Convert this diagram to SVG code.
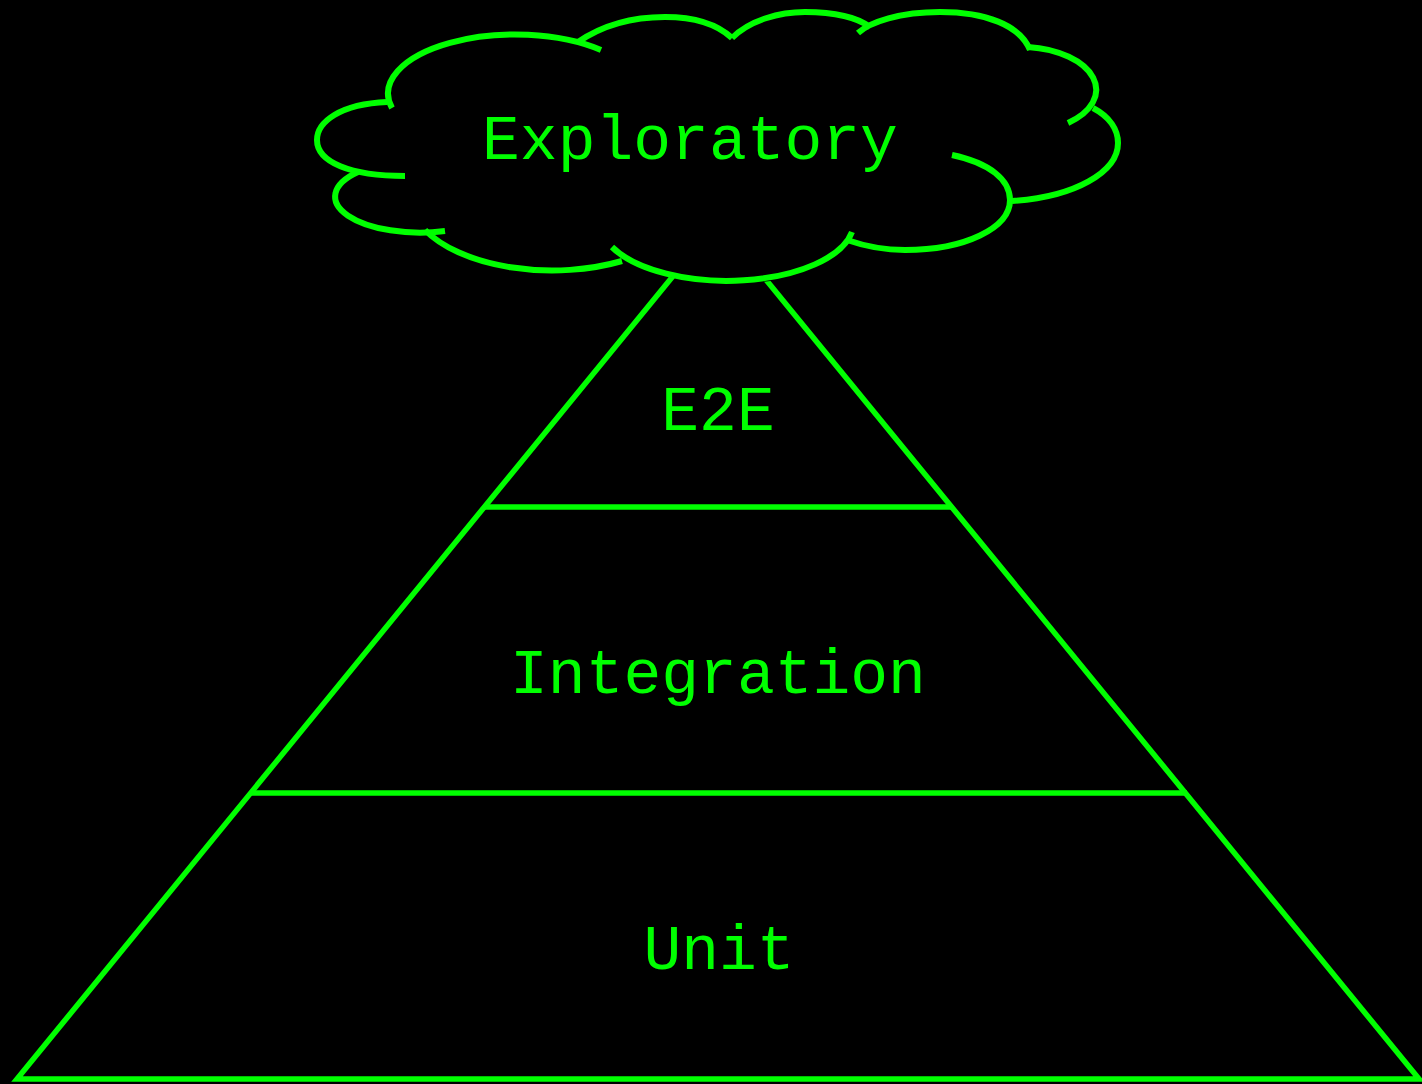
<svg xmlns="http://www.w3.org/2000/svg" width="1422" height="1084" viewBox="0 0 1422 1084">
  <style>
    .ln { fill: none; stroke: #00ff00; stroke-width: 5.5; }
    .cl { fill: none; stroke: #00ff00; stroke-width: 6; }
    .lbl { font-family: "Liberation Mono", "Courier New", monospace; font-size: 63px; fill: #00ff00; text-anchor: middle; }
  </style>
  <rect x="0" y="0" width="1422" height="1084" fill="#000000"/>
  <g id="connectors">
    <line class="ln" x1="484" y1="507" x2="952" y2="507"/>
    <line class="ln" x1="250" y1="793" x2="1187" y2="793"/>
  </g>
  <g id="pyramid">
    <polygon class="ln" points="718,221 1419,1079 17,1079"/>
  </g>
  <g id="e2e"><text class="lbl" x="718" y="430">E2E</text></g>
  <g id="integration"><text class="lbl" x="718" y="693">Integration</text></g>
  <g id="unit"><text class="lbl" x="719" y="969">Unit</text></g>
  <g id="exploratory">
    <ellipse cx="730" cy="225" rx="127" ry="59" fill="#000000"/>
    <ellipse cx="718" cy="150" rx="300" ry="90" fill="#000000"/>
    <path class="cl" d="M392,108 A127,59 0 0 1 601,50"/>
    <path class="cl" d="M387,102 C340,104 317,122 317,140 C317,162 350,176 405,176"/>
    <path class="cl" d="M358,172 A85,36 0 0 0 445,231"/>
    <path class="cl" d="M425,230 A142,73 0 0 0 622,261"/>
    <path class="cl" d="M612,247 A127,59 0 0 0 852,232"/>
    <path class="cl" d="M847,240 C870,248 888,250 905,250 C965,250 1010,228 1010,200 C1010,180 990,163 952,155"/>
    <path class="cl" d="M1012,201 C1075,197 1118,172 1118,143 C1118,130 1110,117 1093,108"/>
    <path class="cl" d="M1068,123 A77,43 0 0 0 1028,47"/>
    <path class="cl" d="M1030,50 C1020,25 985,12 940,12 C900,12 870,22 858,33"/>
    <path class="cl" d="M732,38 C750,20 780,12 805,12 C835,12 858,18 870,27"/>
    <path class="cl" d="M578,42 C600,27 630,17 665,17 C695,17 718,25 732,38"/>
    <text class="lbl" x="690" y="159">Exploratory</text>
  </g>
</svg>
